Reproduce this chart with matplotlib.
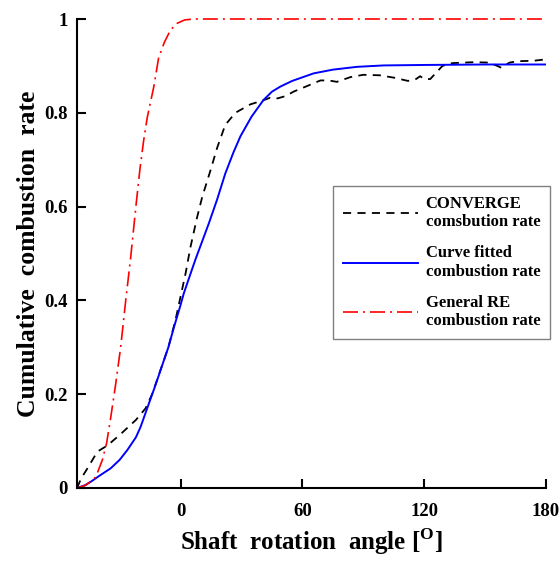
import matplotlib
matplotlib.use('Agg')
import matplotlib.pyplot as plt

plt.rcParams['font.family'] = 'Liberation Serif'
plt.rcParams['font.weight'] = 'bold'
plt.rcParams['mathtext.fontset'] = 'custom'
plt.rcParams['mathtext.rm'] = 'Liberation Serif:bold'
plt.rcParams['mathtext.bf'] = 'Liberation Serif:bold'

# CONVERGE simulation (black dashed)
converge_angle = [-51, -49, -45.7, -42, -40.8, -35.9, -29.5, -22, -17.2, -14, -10, -6,
                  -2.5, 0, 2.5, 4.9, 8.2, 10.7, 14.8, 18, 22, 27, 34.4, 41, 44, 46,
                  48, 52, 55.6, 62.3, 68.9, 73, 77, 83.6, 90, 98, 105, 112, 116, 118,
                  120, 123, 126, 129, 134, 145, 152, 156, 158, 162, 166, 174, 180]
converge_rate = [0.0, 0.02, 0.043, 0.07, 0.078, 0.091, 0.115, 0.145, 0.17, 0.2, 0.25, 0.30,
                 0.358, 0.408, 0.458, 0.514, 0.578, 0.621, 0.678, 0.725, 0.774, 0.80, 0.818,
                 0.827, 0.832, 0.83, 0.831, 0.836, 0.845, 0.857, 0.869, 0.869, 0.866, 0.876,
                 0.881, 0.88, 0.875, 0.868, 0.872, 0.878, 0.872, 0.872, 0.886, 0.9, 0.906,
                 0.908, 0.907, 0.9, 0.896, 0.907, 0.91, 0.911, 0.914]

# curve fit (blue solid)
fit_angle = [-51, -47, -44.3, -40, -34.4, -30, -26.2, -22, -19.7, -15.6, -12.3, -9, -6,
             -3.3, 0, 1.6, 5, 7.4, 9.8, 14, 18, 22, 26, 29.5, 35, 40.8, 45, 49.2, 55,
             65.5, 75, 86.9, 100, 120, 150, 180]
fit_rate = [0.0, 0.006, 0.013, 0.026, 0.042, 0.06, 0.081, 0.108, 0.13, 0.18, 0.22, 0.262,
            0.30, 0.342, 0.39, 0.415, 0.458, 0.488, 0.516, 0.565, 0.615, 0.67, 0.715, 0.75,
            0.792, 0.827, 0.845, 0.856, 0.868, 0.884, 0.892, 0.898, 0.901, 0.902, 0.903,
            0.903]

# general RE combustion (red dash-dot)
general_angle = [-51, -46.7, -41.8, -38.5, -36.4, -34.4, -32, -29.5, -27, -24.6, -22, -20,
                 -18.2, -16.4, -13.2, -10.8, -8, -4.9, -1.6, 2, 6.4, 180]
general_rate = [0.0, 0.006, 0.023, 0.06, 0.096, 0.15, 0.22, 0.30, 0.40, 0.49, 0.60, 0.68,
                0.74, 0.79, 0.855, 0.917, 0.95, 0.977, 0.991, 0.998, 1.0, 1.0]

x_ticks = [0, 60, 120, 180]
y_ticks = [0, 0.2, 0.4, 0.6, 0.8, 1]
y_tick_labels = ['0', '0.2', '0.4', '0.6', '0.8', '1']

fig = plt.figure(figsize=(5.6, 5.61), dpi=100)
ax = fig.add_axes([77 / 560, 1 - 488 / 561, 469 / 560, 469 / 561])

ax.plot(converge_angle, converge_rate, color='black', lw=1.3, dashes=(4.5, 3.5),
        label='CONVERGE\ncomsbution rate')
ax.plot(fit_angle, fit_rate, color='blue', lw=1.4, label='Curve fitted\ncombustion rate')
ax.plot(general_angle, general_rate, color='red', lw=1.2, dashes=(9, 3, 1.2, 3),
        label='General RE\ncombustion rate', clip_on=False)

ax.set_xlim(-51, 180)
ax.set_ylim(0, 1)
ax.set_xticks(x_ticks)
ax.set_yticks(y_ticks)
ax.set_yticklabels(y_tick_labels)

for side in ['top', 'right']:
    ax.spines[side].set_visible(False)
for side in ['left', 'bottom']:
    ax.spines[side].set_linewidth(1.5)

ax.tick_params(axis='both', direction='in', length=6.5, width=1.5, labelsize=13.5)
ax.tick_params(axis='x', pad=10.5)
ax.tick_params(axis='y', pad=6.5)

ax.set_xlabel(r'Shaft  rotation  angle [$^{\mathbf{O}}$]', fontsize=18, fontweight='bold',
              labelpad=5)
ax.set_ylabel('Cumulative  combustion  rate', fontsize=18.5, fontweight='bold', labelpad=3)

leg = ax.legend(loc='upper left', bbox_to_anchor=(0.546, 0.644), borderaxespad=0,
                fontsize=12, labelspacing=0.9, handlelength=4.5, handletextpad=0.45,
                borderpad=0.6, fancybox=False, edgecolor='gray', framealpha=1)
leg.get_frame().set_linewidth(1.0)

fig.savefig('out.png', dpi=100, facecolor='white')
